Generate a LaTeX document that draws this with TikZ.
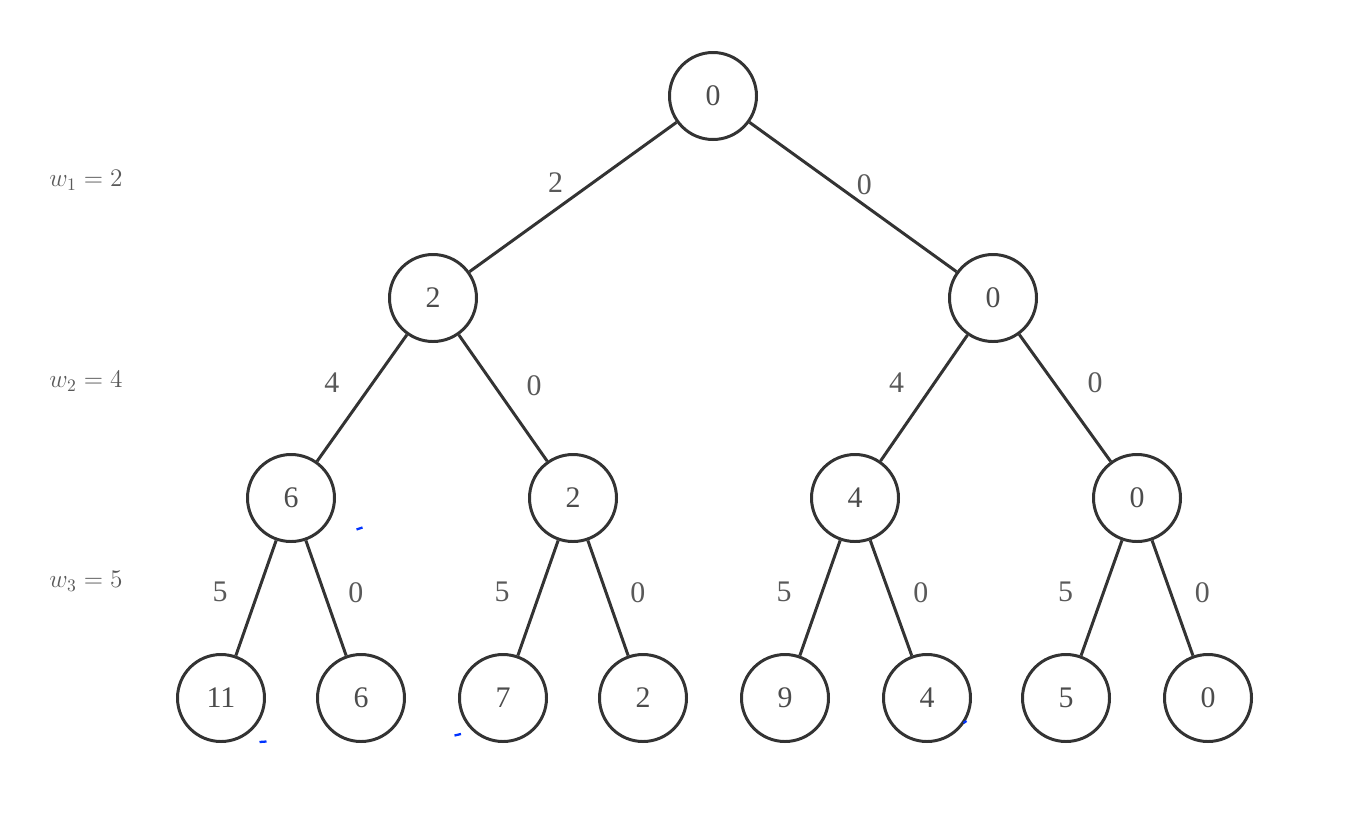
\documentclass[tikz,border=0pt]{standalone}
\usepackage{fontspec}
\setmainfont{Liberation Serif}
\usetikzlibrary{positioning}
\begin{document}
\begin{tikzpicture}[
    no/.style={circle, draw=black!80, line width=1.7pt, minimum size=1.74cm, inner sep=0pt,
      text=black!70, font=\fontsize{17}{19}\selectfont},
    aresta/.style={draw=black!80, line width=1.7pt},
    peso/.style={inner sep=0pt, text=black!65, font=\fontsize{17}{19}\selectfont},
    nivel/.style={inner sep=0pt, text=black!65, font=\fontsize{14}{16}\selectfont},
    marca/.style={blue!80!cyan, line width=1.3pt}
  ]
    \useasboundingbox (0,0) rectangle (27.08,-16.62);
    % Nós da árvore
    \foreach \nome/\x/\y/\val in {r/14.26/-1.92/0, a/8.66/-5.96/2, b/19.86/-5.96/0,
        c/5.82/-9.96/6, d/11.46/-9.96/2, e/17.10/-9.96/4, f/22.74/-9.96/0,
        g/4.42/-13.96/11, h/7.22/-13.96/6, i/10.06/-13.96/7, j/12.86/-13.96/2,
        k/15.70/-13.96/9, l/18.54/-13.96/4, m/21.32/-13.96/5, n/24.16/-13.96/0}
      \node[no] (\nome) at (\x,\y) {\val};
    % Arestas com pesos
    \foreach \pai/\filho/\p/\anc/\dx/\val in {r/a/0.405/east/-0.56cm/2, r/b/0.42/west/0.38cm/0,
        a/c/0.38/east/-0.64cm/4, a/d/0.40/west/0.62cm/0,
        b/e/0.38/east/-0.58cm/4, b/f/0.38/west/0.64cm/0,
        c/g/0.45/east/-0.58cm/5, c/h/0.45/west/0.46cm/0,
        d/i/0.45/east/-0.58cm/5, d/j/0.45/west/0.46cm/0,
        e/k/0.45/east/-0.58cm/5, e/l/0.45/west/0.46cm/0,
        f/m/0.45/east/-0.58cm/5, f/n/0.45/west/0.46cm/0}
      \draw[aresta] (\pai) -- node[peso, pos=\p, anchor=\anc, xshift=\dx] {\val} (\filho);
    % Pesos dos níveis
    \node[nivel] (w1) at (1.72,-3.60) {$w_1 = 2$};
    \node[nivel] (w2) at (1.72,-7.62) {$w_2 = 4$};
    \node[nivel] (w3) at (1.72,-11.62) {$w_3 = 5$};
    % Marcas azuis
    \draw[marca] (7.13,-10.59) -- (7.25,-10.55);
    \draw[marca] (5.19,-14.84) -- (5.33,-14.83);
    \draw[marca] (9.09,-14.71) -- (9.22,-14.68);
    \draw[marca] (19.27,-14.46) -- (19.33,-14.42);
\end{tikzpicture}
\end{document}
